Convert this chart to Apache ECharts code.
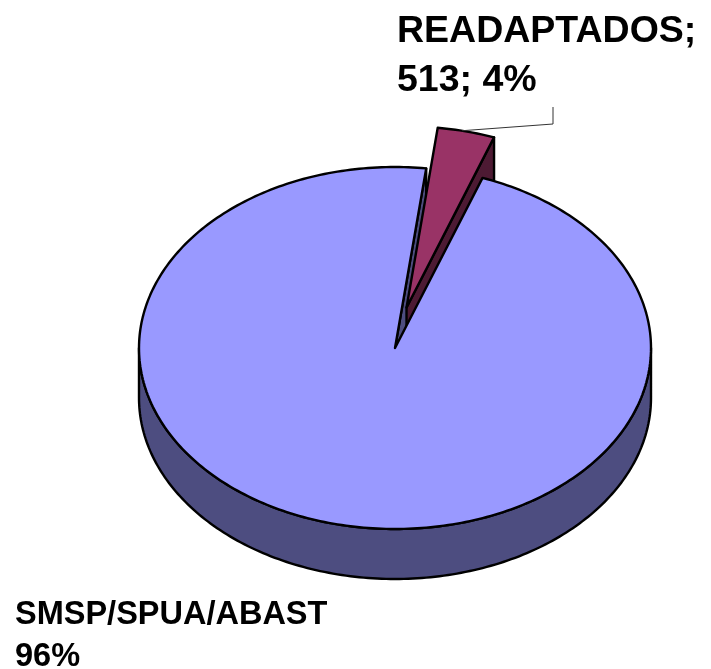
<!DOCTYPE html>
<html>
<head>
<meta charset="utf-8">
<style>
  html, body { margin: 0; padding: 0; background: #fff; }
  #chart { width: 711px; height: 669px; }
</style>
<script src="https://cdn.jsdelivr.net/npm/echarts@6/dist/echarts.min.js"></script>
</head>
<body>
<div id="chart"></div>
<script>
const sliceNames = ['READAPTADOS', 'SMSP/SPUA/ABAST']
const sliceValues = [513, 13700]  // second value is estimated, only its 96% is printed
const topColors = ['#993366', '#9999FF']
const wallColors = ['#4D1A33', '#4D4D80']
const explode = [[0.045, 0.224], [0, 0]]  // slice offset, in axis units
const startAngle = 7
const depth = 0.276  // pie thickness, in axis units

const total = sliceValues.reduce((a, b) => a + b, 0)
const percent = (i) => Math.round(sliceValues[i] / total * 100)

// angles run clockwise from the top of the pie
const angles = []
let acc = startAngle
sliceValues.forEach((v) => {
  angles.push([acc, acc + v / total * 360])
  acc += v / total * 360
})

const rad = (deg) => deg * Math.PI / 180
const onRim = (deg, o) => [o[0] + Math.sin(rad(deg)), o[1] + Math.cos(rad(deg))]

const arcPoints = (from, to, o) => {
  const pts = []
  for (let a = from; a < to; a += 1) pts.push(onRim(a, o))
  pts.push(onRim(to, o))
  return pts
}

const renderSlice = (params, api) => {
  const i = params.dataIndex
  const [from, to] = angles[i]
  const mid = (from + to) / 2
  const o = explode[i]
  const down = (p) => [p[0], p[1] - depth]
  const px = (pts) => pts.map((p) => api.coord(p))
  const line = { stroke: '#000', lineWidth: 2.4, lineJoin: 'round' }
  const children = []

  const poly = (pts, fill, z2) => children.push({
    type: 'polygon',
    z2,
    shape: { points: px(pts) },
    style: { fill, ...line },
  })

  if (i === 0) {
    // exploded slice: end wall, top face, leader line
    const endRim = onRim(to, o)
    poly([o, endRim, down(endRim), down(o)], wallColors[i], 3)
    poly([o, ...arcPoints(from, to, o)], topColors[i], 4)
    const start = api.coord(onRim(mid - 1, o))
    children.push({
      type: 'polyline',
      z2: 5,
      shape: { points: [start, [553, 124], [553, 107]] },
      style: { fill: null, stroke: '#333', lineWidth: 1 },
    })
  } else {
    // outer wall only shows on the front half
    const front = arcPoints(90, 270, o)
    poly([...front, ...front.map(down).reverse()], wallColors[i], 1)
    // cut wall seen through the gap
    const cutEnd = onRim(to - 360, o)
    poly([o, cutEnd, down(cutEnd), down(o)], wallColors[i], 2)
    poly([o, ...arcPoints(from, to, o)], topColors[i], 6)
  }
  return { type: 'group', children }
}

const chart = echarts.init(document.getElementById('chart'), undefined, { renderer: 'canvas' })
chart.setOption({
  animation: false,
  backgroundColor: '#fff',
  grid: { left: 139, top: 167, width: 512, height: 362 },
  xAxis: { type: 'value', min: -1, max: 1, show: false },
  yAxis: { type: 'value', min: -1, max: 1, show: false },
  series: [
    {
      type: 'custom',
      coordinateSystem: 'cartesian2d',
      clip: false,
      silent: true,
      data: sliceValues.map((v) => [0, 0, v]),
      renderItem: renderSlice,
    },
  ],
  graphic: [
    {
      type: 'text',
      left: 397,
      top: 7,
      style: {
        text: `${sliceNames[0]};\n${sliceValues[0]}; ${percent(0)}%`,
        font: 'bold 37.5px "Liberation Sans", Arial, sans-serif',
        lineHeight: 49,
        fill: '#000',
      },
    },
    {
      type: 'text',
      left: 15,
      top: 594,
      style: {
        text: `${sliceNames[1]}\n${percent(1)}%`,
        font: 'bold 32.5px "Liberation Sans", Arial, sans-serif',
        lineHeight: 42,
        fill: '#000',
      },
    },
  ],
})
</script>
</body>
</html>
